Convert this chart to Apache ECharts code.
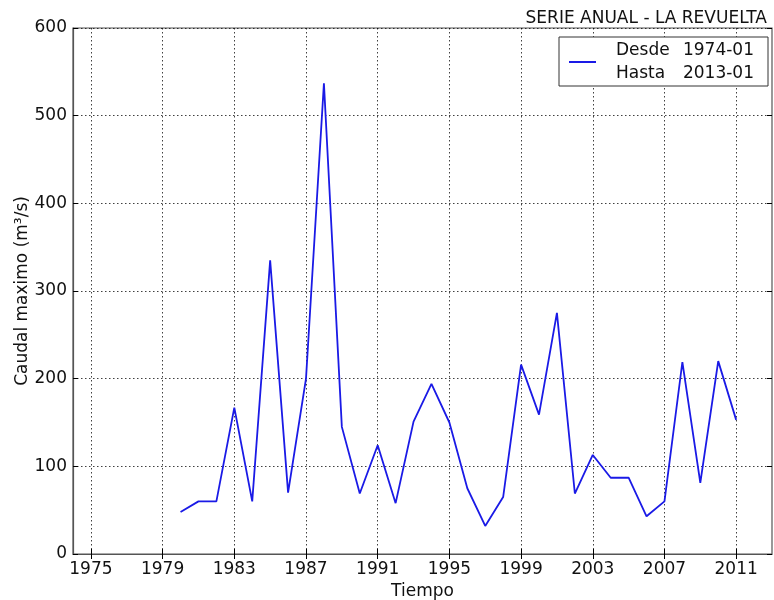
<!DOCTYPE html>
<html>
<head>
<meta charset="utf-8">
<script src="https://cdn.jsdelivr.net/npm/echarts@6/dist/echarts.min.js"></script>
<style>html,body{margin:0;padding:0;background:#fff}#c{width:774px;height:600px}</style>
</head>
<body>
<div id="c"></div>
<script>
const years = [1980,1981,1982,1983,1984,1985,1986,1987,1988,1989,1990,1991,1992,1993,1994,1995,1996,1997,1998,1999,2000,2001,2002,2003,2004,2005,2006,2007,2008,2009,2010,2011];
const caudal = [48,60,60,167,60,335,70,200,537,145,69,124,58,151,194,150,75,32,65,216,159,275,69,113,87,87,43,60,219,81,220,153];
const xTicks = [1975,1979,1983,1987,1991,1995,1999,2003,2007,2011];
const yTicks = [0,100,200,300,400,500,600];
const titleText = 'SERIE ANUAL - LA REVUELTA';
const seriesName = 'serie';
const legendLines = [['Desde','1974-01'],['Hasta','2013-01']];

const FONT = 'DejaVu Sans';
const FS = 17;
const chart = echarts.init(document.getElementById('c'), null, {renderer:'canvas'});
const gridLine = {show:true, lineStyle:{color:'#000', type:[1.5,2.5], width:1, opacity:0.75}};
const frameColor = '#555';
chart.setOption({
  animation:false,
  backgroundColor:'#fff',
  title:{text:titleText, right:2, top:5, textStyle:{fontFamily:FONT, fontSize:FS, fontWeight:'normal', color:'#111'}},
  grid:{left:73, top:28, right:2, bottom:46, outerBoundsMode:'none', containLabel:false, show:true, borderColor:frameColor, borderWidth:1.2, backgroundColor:'#fff'},
  legend:{
    show:true, left:559, top:37, orient:'vertical',
    padding:[5,14,4,10], backgroundColor:'#fff', borderColor:'#333', borderWidth:1, borderRadius:0,
    icon:'rect', itemWidth:27, itemHeight:2, itemGap:0,
    data:[{name:seriesName}],
    formatter: function(){ return legendLines.map(l => '{a|'+l[0]+'}{b|'+l[1]+'}').join('\n'); },
    textStyle:{fontFamily:FONT, fontSize:FS, color:'#111', padding:[0,0,0,15],
      rich:{a:{fontFamily:FONT, fontSize:FS, width:66, lineHeight:23, color:'#111'}, b:{fontFamily:FONT, fontSize:FS, width:72, align:'right', lineHeight:23, color:'#111'}}}
  },
  xAxis:[{
    type:'value', min:1974, max:2013, name:'Tiempo', nameLocation:'middle', nameGap:29, nameMoveOverlap:false,
    nameTextStyle:{fontFamily:FONT, fontSize:FS, color:'#111'},
    axisLine:{show:true, lineStyle:{color:frameColor, width:1.2}},
    axisTick:{show:true, inside:true, length:5, customValues:xTicks, lineStyle:{color:'#000'}},
    axisLabel:{customValues:xTicks, formatter:v => String(v), fontFamily:FONT, fontSize:FS, color:'#111', margin:7},
    splitLine:gridLine
  },{
    type:'value', min:1974, max:2013, position:'top',
    axisLine:{show:false}, axisLabel:{show:false},
    axisTick:{show:true, inside:true, length:5, customValues:xTicks, lineStyle:{color:'#000'}},
    splitLine:{show:false}
  }],
  yAxis:[{
    type:'value', min:0, max:600, interval:100, name:'Caudal maximo (m³/s)', nameLocation:'middle', nameGap:42, nameMoveOverlap:false,
    nameTextStyle:{fontFamily:FONT, fontSize:FS, color:'#111'},
    axisLine:{show:true, lineStyle:{color:frameColor, width:1.2}},
    axisTick:{show:true, inside:true, length:5, lineStyle:{color:'#000'}},
    axisLabel:{formatter:v => String(v), fontFamily:FONT, fontSize:FS, color:'#111', margin:6},
    splitLine:gridLine
  },{
    type:'value', min:0, max:600, interval:100, position:'right',
    axisLine:{show:false}, axisLabel:{show:false},
    axisTick:{show:true, inside:true, length:5, lineStyle:{color:'#000'}},
    splitLine:{show:false}
  }],
  series:[{
    name:seriesName, type:'line', xAxisIndex:0, yAxisIndex:0,
    data: years.map((y,i) => [y, caudal[i]]),
    symbol:'none', lineStyle:{color:'#1a1ae6', width:1.8}, itemStyle:{color:'#1a1ae6'}
  }]
});
</script>
</body>
</html>
